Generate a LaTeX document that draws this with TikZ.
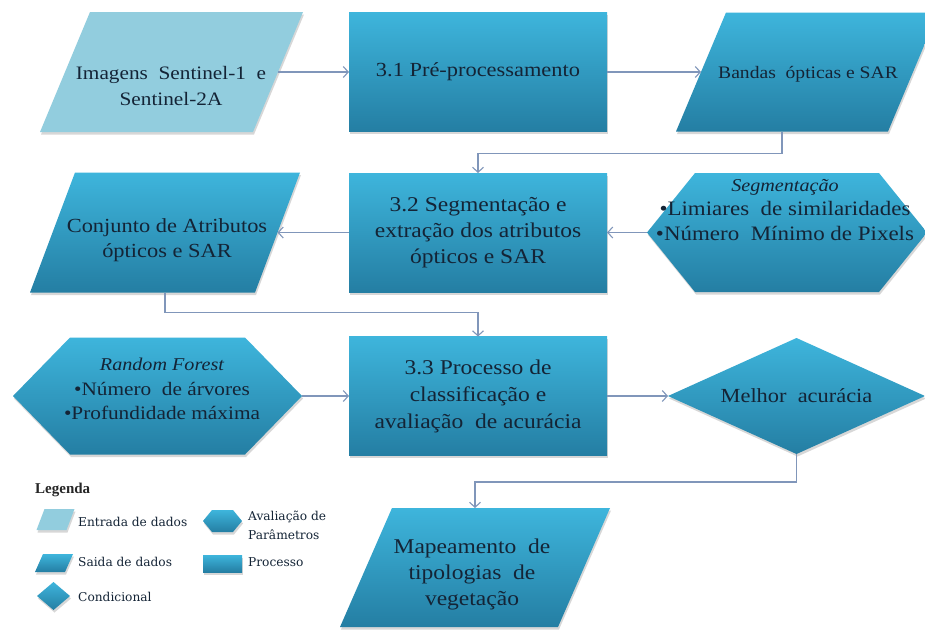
\documentclass[tikz,border=0pt]{standalone}
\usepackage{fontspec}
\setmainfont{Liberation Serif}[FakeStretch=1.12]
\newfontfamily\legfont{DejaVu Serif}
\newfontfamily\legbold{Liberation Serif}
\usetikzlibrary{calc,arrows.meta,shapes.geometric,shadows}

\definecolor{boxtop}{RGB}{62,181,220}
\definecolor{boxbot}{RGB}{36,126,163}
\definecolor{inpfill}{RGB}{146,205,222}
\definecolor{txtc}{RGB}{20,36,54}
\definecolor{linec}{RGB}{128,150,186}

\newcommand\drawpara[3]{\path[#3] ($(#1.north west)+(#2/2,0)$) -- ($(#1.north east)+(#2/2,0)$) -- ($(#1.south east)-(#2/2,0)$) -- ($(#1.south west)-(#2/2,0)$) -- cycle;}
\newcommand\drawhexa[3]{\path[#3] (#1.west) -- ($(#1.north west)+(#2,0)$) -- ($(#1.north east)-(#2,0)$) -- (#1.east) -- ($(#1.south east)-(#2,0)$) -- ($(#1.south west)+(#2,0)$) -- cycle;}

\begin{document}
\begin{tikzpicture}[x=1pt,y=-1pt,
  shad/.style={drop shadow={shadow xshift=1pt, shadow yshift=-2.5pt, opacity=0.22, fill=black!70}},
  anc/.style={rectangle, draw=none, inner sep=0pt, outer sep=0pt},
  darkfill/.style={shad, top color=boxtop, bottom color=boxbot},
  lightfill/.style={shad, fill=inpfill},
  txt/.style={align=center, text=txtc, font=\fontsize{20}{25}\selectfont, inner sep=0pt},
  proc/.style={rectangle, shad, top color=boxtop, bottom color=boxbot, minimum width=258pt, minimum height=119pt, inner sep=0pt, outer sep=0pt, align=center, text=txtc, font=\fontsize{20}{26}\selectfont},
  diam/.style={diamond, shad, aspect=2.2, top color=boxtop, bottom color=boxbot, minimum width=257pt, minimum height=116pt, inner sep=0pt, outer sep=0pt, text=txtc, font=\fontsize{20}{25}\selectfont},
  conn/.style={draw=linec, line width=1.1pt, -{Straight Barb[length=5pt,width=11pt]}},
  legtxt/.style={anchor=west, text=txtc, font=\legfont\fontsize{12.2}{19}\selectfont, inner sep=0pt, align=left}
]
\useasboundingbox (0,0) rectangle (925,630);
\fill[white] (0,0) rectangle (925,630);

% anchor boxes of the drawn shapes
\node[anc, minimum width=213pt, minimum height=120pt] (inp) at (171.5,72) {};
\node[anc, minimum width=212pt, minimum height=119pt] (band) at (807,72) {};
\node[anc, minimum width=225pt, minimum height=120pt] (conj) at (165,232.5) {};
\node[anc, minimum width=280pt, minimum height=119pt] (seg) at (787,232.5) {};
\node[anc, minimum width=289pt, minimum height=117pt] (rf) at (157.5,396) {};
\node[anc, minimum width=218pt, minimum height=119pt] (map) at (475,567.5) {};

\drawpara{inp}{50}{lightfill}
\drawpara{band}{50}{darkfill}
\drawpara{conj}{45}{darkfill}
\drawhexa{seg}{48}{darkfill}
\drawhexa{rf}{57}{darkfill}
\drawpara{map}{52}{darkfill}

\node[txt, font=\fontsize{19}{26}\selectfont] (inptxt) at (171,86) {Imagens\ \ Sentinel-1\ \ e\\Sentinel-2A};
\node[txt, font=\fontsize{17.5}{24}\selectfont] (bandtxt) at (808,74) {Bandas\ \ ópticas e SAR};
\node[txt] (conjtxt) at (167,240) {Conjunto de Atributos\\ópticos e SAR};
\node[txt, font=\fontsize{20.5}{24.5}\selectfont] (segtxt) at (785,210) {{\itshape\fontsize{18}{22}\selectfont Segmentação}\\•Limiares\ \ de similaridades\\•Número\ \ Mínimo de Pixels};
\node[txt, font=\fontsize{19}{24.5}\selectfont] (rftxt) at (162,389) {{\itshape\fontsize{18}{22}\selectfont Random Forest}\\•Número\ \ de árvores\\•Profundidade máxima};
\node[txt, font=\fontsize{21}{26}\selectfont] (maptxt) at (472,574) {Mapeamento\ \ de\\tipologias\ \ de\\vegetação};

\node[proc] (p31) at (478,72) {3.1 Pré-processamento};
\node[proc, font=\fontsize{21}{26}\selectfont] (p32) at (478,232.5) {3.2 Segmentação e\\extração dos atributos\\ópticos e SAR};
\node[proc, font=\fontsize{21}{27}\selectfont] (p33) at (478,396) {3.3 Processo de\\classificação e\\avaliação\ \ de acurácia};
\node[diam] (dia) at (796.5,396) {Melhor\ \ acurácia};

% connectors
\coordinate (bandbot) at ($(band.south)+(-25,0)$);
\draw[conn] (inp.east) -- (p31.west);
\draw[conn] (p31.east) -- (band.west);
\draw[conn] (bandbot) -- ++(0,22) -| (p32.north);
\draw[conn] (seg.west) -- (p32.east);
\draw[conn] (p32.west) -- (conj.east);
\draw[conn] (conj.south) -- ++(0,20) -| (p33.north);
\draw[conn] (rf.east) -- (p33.west);
\draw[conn] (p33.east) -- (dia.west);
\draw[conn] (dia.south) -- ++(0,28) -| (map.north);

% legend
\node[font=\legbold\bfseries\fontsize{15}{18}\selectfont, text=black!85, anchor=west, inner sep=0pt] (leg) at (35,490) {Legenda};
\node[anc, minimum width=30pt, minimum height=21pt] (l1) at (55.5,519.5) {};
\drawpara{l1}{8}{lightfill}
\node[legtxt] (l1t) at (78,522) {Entrada de dados};
\node[anc, minimum width=30pt, minimum height=18pt] (l2) at (54,563) {};
\drawpara{l2}{8}{darkfill}
\node[legtxt] (l2t) at (78,562) {Saida de dados};
\node[diam, aspect=1, minimum width=33pt, minimum height=28pt] (l3) at (53.5,596) {};
\node[legtxt] (l3t) at (78,597) {Condicional};
\node[anc, minimum width=39pt, minimum height=22pt] (l4) at (222.5,521) {};
\drawhexa{l4}{9}{darkfill}
\node[legtxt] (l4t) at (248,525) {Avaliação de\\Parâmetros};
\node[proc, minimum width=39pt, minimum height=17pt] (l5) at (222.5,563.5) {};
\node[legtxt] (l5t) at (248,562) {Processo};
\end{tikzpicture}
\end{document}
